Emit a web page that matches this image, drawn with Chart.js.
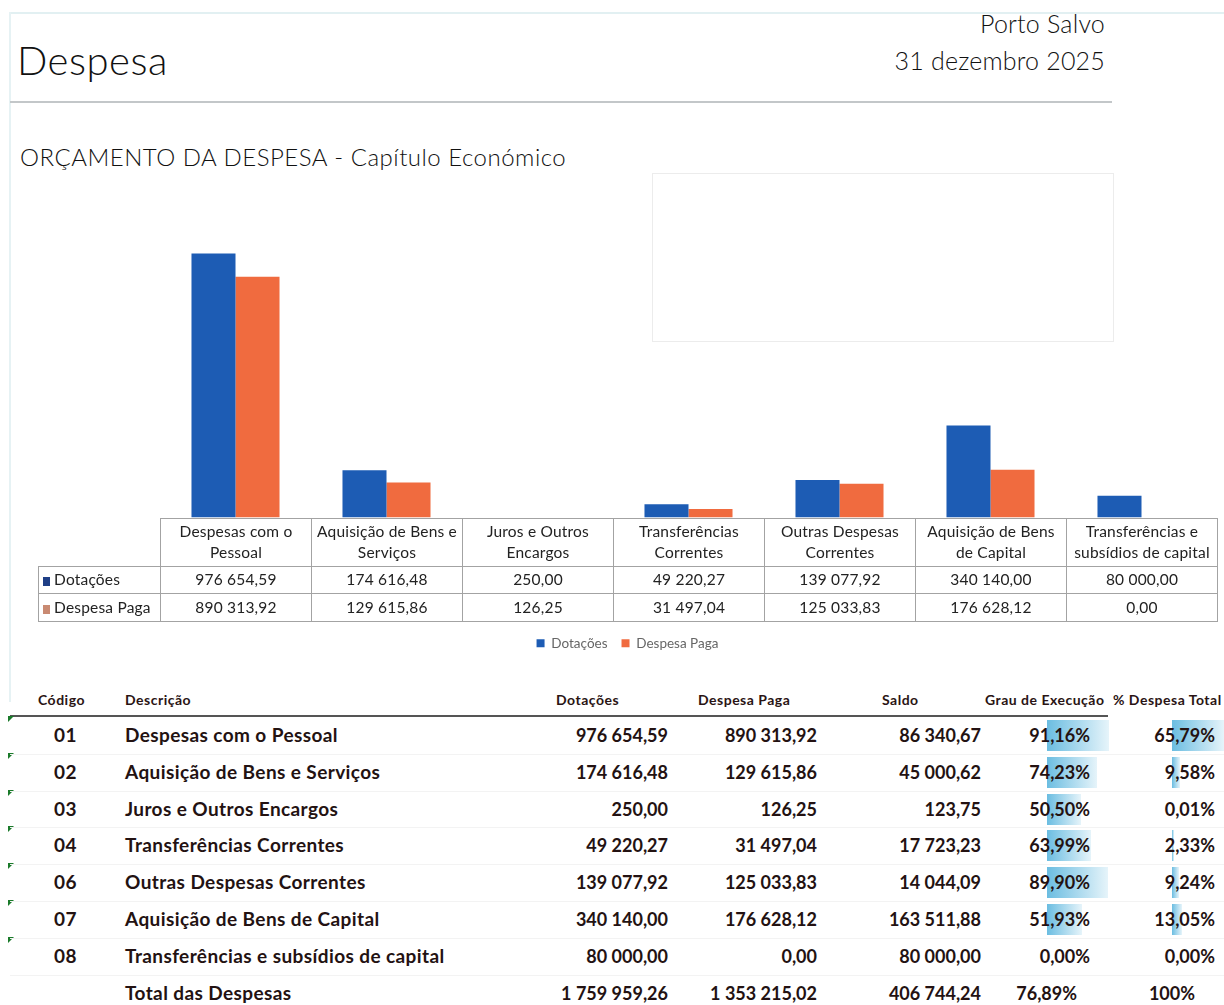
<!DOCTYPE html>
<html lang="pt">
<head>
<meta charset="utf-8">
<title>Despesa</title>
<script src="https://cdn.jsdelivr.net/npm/chart.js@4.4.1/dist/chart.umd.min.js"></script>
<style>
  body { margin: 0; width: 1224px; height: 1005px; background: #fff; position: relative; overflow: hidden;
         font-family: Lato, "Liberation Sans", sans-serif; color: #222; }
  .abs { position: absolute; white-space: nowrap; }
  #moldura-top { left: 10px; top: 12px; width: 1214px; height: 0; border-top: 2px solid #e2f0f2; }
  #moldura-esq { left: 9px; top: 12px; width: 0; height: 690px; border-left: 2px solid #e6f2f4; }
  #titulo { left: 17px; top: 36px; font-size: 40px; font-weight: 300; color: #111; letter-spacing: 0.5px; }
  #local { right: 119px; top: 8px; font-size: 25px; font-weight: 300; color: #111; letter-spacing: 0.2px; }
  #data { right: 119px; top: 45px; font-size: 25px; font-weight: 300; color: #111; letter-spacing: 0.2px; }
  #regua { left: 10px; top: 101px; width: 1102px; height: 0; border-top: 2px solid #c3c7c9; }
  #subtitulo { left: 20px; top: 142px; font-size: 24px; font-weight: 300; color: #111; letter-spacing: 0.5px; }
  #caixa { left: 652px; top: 173px; width: 460px; height: 167px; border: 1px solid #ececec; }
  #grafico { position: absolute; left: 0; top: 180px; }
  #tabelaDados { position: absolute; border-collapse: collapse; table-layout: fixed; font-size: 15.5px; color: #222; letter-spacing: 0.2px; }
  #tabelaDados td { border: 1px solid #a3a3a3; text-align: center; padding: 0; line-height: 21px; overflow: hidden; white-space: nowrap; }
  #tabelaDados td.vazio { border-top: none; border-left: none; }
  #tabelaDados td.serie { text-align: left; padding-left: 4px; }
  .marca { display: inline-block; width: 7px; height: 9px; margin-right: 4px; vertical-align: -1px; }
  #lista { position: absolute; left: 0; top: 683px; width: 1224px; height: 322px; }
  .cab { position: absolute; top: 8px; font-size: 14px; font-weight: 700; color: #2a1414; white-space: nowrap; letter-spacing: 0.5px; }
  #linhaCab { position: absolute; left: 10px; top: 32px; width: 1098px; border-top: 2px solid #555; }
  .cel { position: absolute; font-size: 19px; font-weight: 700; color: #231212; white-space: nowrap; line-height: 36px; letter-spacing: 0.4px; }
  .cel.num { font-size: 18px; letter-spacing: 0; }
  .barra { position: absolute; height: 31px; background: linear-gradient(to right, #6bbde1, #e6f4fa); }
  .sep { position: absolute; left: 10px; width: 1214px; border-top: 1px solid #f3f3f3; }
  .tri { position: absolute; left: 8px; width: 0; height: 0; border-top: 6px solid #1a7a2a; border-right: 6px solid transparent; }
</style>
</head>
<body>
<div class="abs" id="moldura-top"></div>
<div class="abs" id="moldura-esq"></div>
<div class="abs" id="titulo">Despesa</div>
<div class="abs" id="local">Porto Salvo</div>
<div class="abs" id="data">31 dezembro 2025</div>
<div class="abs" id="regua"></div>
<div class="abs" id="subtitulo">ORÇAMENTO DA DESPESA - Capítulo Económico</div>
<div class="abs" id="caixa"></div>
<canvas id="grafico" width="1224" height="480"></canvas>
<div id="lista"></div>

<script>
// dados do gráfico
const categorias = [
  'Despesas com o Pessoal',
  'Aquisição de Bens e Serviços',
  'Juros e Outros Encargos',
  'Transferências Correntes',
  'Outras Despesas Correntes',
  'Aquisição de Bens de Capital',
  'Transferências e subsídios de capital'
];
const rotulosTabela = [
  ['Despesas com o', 'Pessoal'],
  ['Aquisição de Bens e', 'Serviços'],
  ['Juros e Outros', 'Encargos'],
  ['Transferências', 'Correntes'],
  ['Outras Despesas', 'Correntes'],
  ['Aquisição de Bens', 'de Capital'],
  ['Transferências e', 'subsídios de capital']
];
const dotacoes = [976654.59, 174616.48, 250.00, 49220.27, 139077.92, 340140.00, 80000.00];
const despesaPaga = [890313.92, 129615.86, 126.25, 31497.04, 125033.83, 176628.12, 0.00];

// dados da tabela
const codigos = ['01', '02', '03', '04', '06', '07', '08'];
const saldo = [86340.67, 45000.62, 123.75, 17723.23, 14044.09, 163511.88, 80000.00];
const grauExecucao = [91.16, 74.23, 50.50, 63.99, 89.90, 51.93, 0.00];
const pctDespesaTotal = [65.79, 9.58, 0.01, 2.33, 9.24, 13.05, 0.00];
const totais = [1759959.26, 1353215.02, 406744.24];
const grauTotal = 76.89;
const pctTotal = 100;

const corDotacoes = '#1d5cb4';
const corPaga = '#f06b3f';

function fmt(v) {
  const partes = v.toFixed(2).split('.');
  const inteiro = partes[0].replace(/\B(?=(\d{3})+(?!\d))/g, ' ');
  return inteiro + ',' + partes[1];
}
function fmtPct(v) {
  return v.toFixed(2).replace('.', ',') + '%';
}

const chart = new Chart(document.getElementById('grafico'), {
  type: 'bar',
  data: {
    labels: categorias,
    datasets: [
      { label: 'Dotações', data: dotacoes, backgroundColor: corDotacoes },
      { label: 'Despesa Paga', data: despesaPaga, backgroundColor: corPaga }
    ]
  },
  options: {
    responsive: false,
    animation: false,
    layout: { padding: { left: 38, right: 7, top: 13, bottom: 0 } },
    datasets: { bar: { categoryPercentage: 0.583, barPercentage: 1 } },
    plugins: {
      legend: {
        position: 'bottom',
        labels: {
          boxWidth: 8, boxHeight: 8, padding: 14, color: '#666',
          font: { size: 13.5, family: 'Lato, sans-serif' }
        }
      },
      tooltip: { enabled: false }
    },
    scales: {
      x: {
        grid: { display: false }, border: { display: false }, ticks: { display: false },
        afterFit: s => { s.height = 105; }
      },
      y: {
        min: 0, max: 1200000,
        grid: { display: false }, border: { display: false }, ticks: { display: false },
        afterFit: s => { s.width = 122; }
      }
    }
  }
});

// tabela de dados por baixo das barras, alinhada com a escala x
(function () {
  const area = chart.chartArea;
  const xs = chart.scales.x;
  const larg = xs.width / categorias.length;
  const topoCanvas = 180;
  const t = document.createElement('table');
  t.id = 'tabelaDados';
  t.style.left = (area.left - 122) + 'px';
  t.style.top = (topoCanvas + area.bottom) + 'px';
  let html = '<colgroup><col style="width:122px">';
  categorias.forEach(() => { html += '<col style="width:' + larg + 'px">'; });
  html += '</colgroup><tr style="height:48px"><td class="vazio"></td>';
  rotulosTabela.forEach(r => { html += '<td>' + r.join('<br>') + '</td>'; });
  html += '</tr><tr style="height:27px"><td class="serie"><span class="marca" style="background:#1f3f86"></span>Dotações</td>';
  dotacoes.forEach(v => { html += '<td>' + fmt(v) + '</td>'; });
  html += '</tr><tr style="height:28px"><td class="serie"><span class="marca" style="background:#c98a72"></span>Despesa Paga</td>';
  despesaPaga.forEach(v => { html += '<td>' + fmt(v) + '</td>'; });
  html += '</tr>';
  t.innerHTML = html;
  document.body.appendChild(t);
})();

// tabela resumo
(function () {
  const lista = document.getElementById('lista');
  const cabecalhos = [
    ['Código', 38], ['Descrição', 125], ['Dotações', 556], ['Despesa Paga', 698],
    ['Saldo', 882], ['Grau de Execução', 985], ['% Despesa Total', 1113]
  ];
  let html = '';
  cabecalhos.forEach(c => { html += '<div class="cab" style="left:' + c[1] + 'px">' + c[0] + '</div>'; });
  html += '<div id="linhaCab"></div>';
  const topo0 = 34, alt = 36.8;
  const maxGrau = Math.max(...grauExecucao);
  const maxPct = Math.max(...pctDespesaTotal);
  const cel = (txt, y, pos, cls) => '<div class="cel' + (cls ? ' ' + cls : '') + '" style="top:' + y + 'px;' + pos + '">' + txt + '</div>';
  categorias.forEach((nome, i) => {
    const y = topo0 + i * alt;
    html += '<div class="tri" style="top:' + (y - 1) + 'px"></div>';
    if (i > 0) html += '<div class="sep" style="top:' + y + 'px"></div>';
    html += '<div class="barra" style="top:' + (y + 3) + 'px;left:1047px;width:' + (grauExecucao[i] / maxGrau * 62) + 'px"></div>';
    html += '<div class="barra" style="top:' + (y + 3) + 'px;left:1172px;width:' + (pctDespesaTotal[i] / maxPct * 52) + 'px"></div>';
    html += cel(codigos[i], y, 'left:54px');
    html += cel(nome, y, 'left:125px');
    html += cel(fmt(dotacoes[i]), y, 'right:' + (1224 - 668) + 'px', 'num');
    html += cel(fmt(despesaPaga[i]), y, 'right:' + (1224 - 817) + 'px', 'num');
    html += cel(fmt(saldo[i]), y, 'right:' + (1224 - 981) + 'px', 'num');
    html += cel(fmtPct(grauExecucao[i]), y, 'right:' + (1224 - 1090) + 'px', 'num');
    html += cel(fmtPct(pctDespesaTotal[i]), y, 'right:' + (1224 - 1215) + 'px', 'num');
  });
  const yT = topo0 + categorias.length * alt;
  html += '<div class="sep" style="top:' + yT + 'px"></div>';
  html += cel('Total das Despesas', yT, 'left:125px');
  html += cel(fmt(totais[0]), yT, 'right:' + (1224 - 668) + 'px', 'num');
  html += cel(fmt(totais[1]), yT, 'right:' + (1224 - 817) + 'px', 'num');
  html += cel(fmt(totais[2]), yT, 'right:' + (1224 - 981) + 'px', 'num');
  html += cel(fmtPct(grauTotal), yT, 'right:' + (1224 - 1077) + 'px', 'num');
  html += cel(pctTotal + '%', yT, 'right:' + (1224 - 1195) + 'px', 'num');
  lista.innerHTML = html;
})();
</script>
</body>
</html>
